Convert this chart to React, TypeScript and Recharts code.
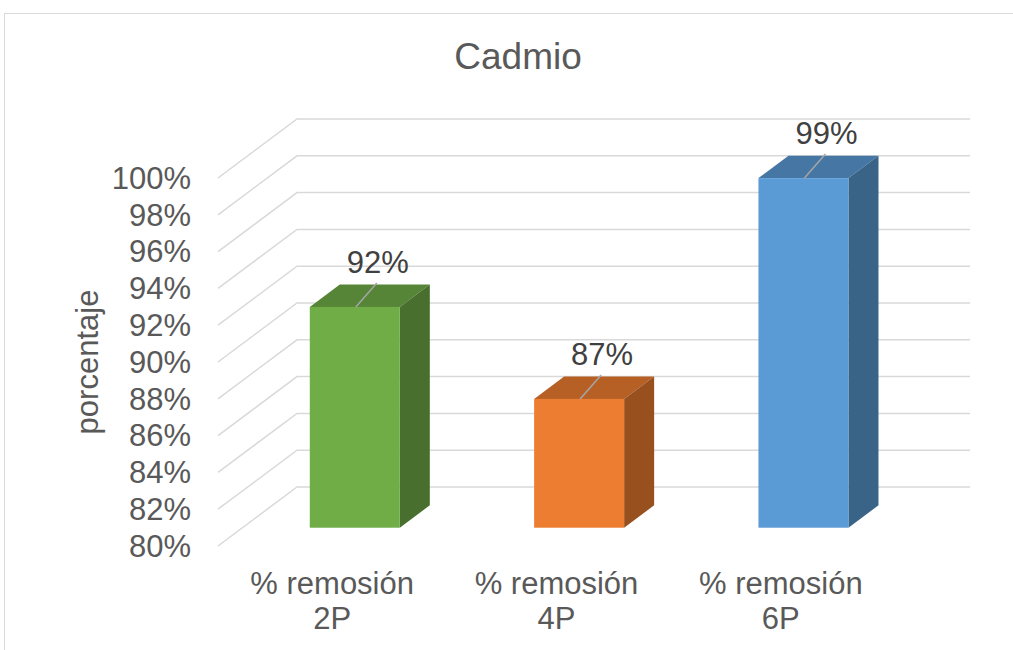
import { BarChart, Bar, XAxis, YAxis, CartesianGrid, LabelList } from "recharts"

const categories = ["% remosión 2P", "% remosión 4P", "% remosión 6P"]
const removal = [92, 87, 99]
const yTicks = [80, 82, 84, 86, 88, 90, 92, 94, 96, 98, 100]
const barColors = ["#70AD47", "#ED7D31", "#5B9BD5"]

const data = categories.map((name, i) => ({ name, value: removal[i] }))

// fake 3d: how far the back wall sits from the front plane
const DEPTH_X = 79
const DEPTH_Y = 59
const BAR_FRONT = 0.31
const BAR_DEPTH = 0.38

const FONT = '"Liberation Sans", Arial, sans-serif'
const GRID = "#d9d9d9"
const TEXT = "#595959"

function shade(hex: string, k: number) {
  const n = parseInt(hex.slice(1), 16)
  const c = [(n >> 16) & 255, (n >> 8) & 255, n & 255].map((v) => Math.round(v * k))
  return `rgb(${c[0]},${c[1]},${c[2]})`
}

function Box3D(props: any) {
  const { x, y, width, height, index } = props
  if (height == null || height <= 0) return null
  const color = barColors[index % barColors.length]
  const x0 = x + BAR_FRONT * DEPTH_X
  const y0 = y - BAR_FRONT * DEPTH_Y
  const dx = BAR_DEPTH * DEPTH_X
  const dy = -BAR_DEPTH * DEPTH_Y
  return (
    <g>
      <polygon
        points={`${x0},${y0} ${x0 + dx},${y0 + dy} ${x0 + width + dx},${y0 + dy} ${x0 + width},${y0}`}
        fill={shade(color, 0.77)}
      />
      <polygon
        points={`${x0 + width},${y0} ${x0 + width + dx},${y0 + dy} ${x0 + width + dx},${y0 + height + dy} ${x0 + width},${y0 + height}`}
        fill={shade(color, 0.64)}
      />
      <rect x={x0} y={y0} width={width} height={height} fill={color} />
    </g>
  )
}

function ValueLabel(props: any) {
  const { x, y, width, value } = props
  const cx = x + BAR_FRONT * DEPTH_X + width / 2
  const top = y - BAR_FRONT * DEPTH_Y
  return (
    <g>
      <line x1={cx + 1} y1={top} x2={cx + 22} y2={top - 24} stroke="#a6a6a6" strokeWidth={1.5} />
      <text x={cx + 23} y={top - 34} textAnchor="middle" fontSize={31} fontFamily={FONT} fill="#404040">
        {`${Math.round(value)}%`}
      </text>
    </g>
  )
}

function CategoryTick(props: any) {
  const { x, y, payload } = props
  const parts = String(payload.value).split(" ")
  const first = parts.slice(0, parts.length - 1).join(" ")
  const last = parts[parts.length - 1]
  return (
    <text textAnchor="middle" fontSize={31} fontFamily={FONT} fill={TEXT}>
      <tspan x={x + 2} y={y + 48}>{first}</tspan>
      <tspan x={x + 2} y={y + 83}>{last}</tspan>
    </text>
  )
}

function PercentTick(props: any) {
  const { x, y, payload } = props
  return (
    <text x={x} y={y} dy="0.35em" textAnchor="end" fontSize={31} fontFamily={FONT} fill={TEXT}>
      {`${payload.value}%`}
    </text>
  )
}

function AxisTitle(props: any) {
  const { viewBox } = props
  const cx = viewBox.x - 31
  const cy = viewBox.y + viewBox.height / 2
  return (
    <text
      x={cx}
      y={cy}
      transform={`rotate(-90 ${cx} ${cy})`}
      textAnchor="middle"
      dominantBaseline="central"
      fontSize={31}
      fontFamily={FONT}
      fill={TEXT}
    >
      porcentaje
    </text>
  )
}

function gridLine(p: any) {
  const d = `M${p.x1},${p.y1} L${p.x1 + DEPTH_X},${p.y1 - DEPTH_Y} L${p.x2 + DEPTH_X},${p.y1 - DEPTH_Y}`
  return <path key={`h-${p.index}-${p.y1}`} d={d} stroke={GRID} strokeWidth={1.5} fill="none" />
}

export default function App() {
  return (
    <div style={{ position: "fixed", left: 0, top: 0, width: 1013, height: 650, overflow: "hidden", background: "#fff" }}>
      <div
        style={{
          position: "absolute",
          left: 4,
          top: 13,
          width: 1100,
          height: 700,
          border: `1.5px solid ${GRID}`,
        }}
      />
      <svg width={1013} height={650} style={{ position: "absolute", left: 0, top: 0 }}>
        <text x={518} y={69} textAnchor="middle" fontSize={37} fontFamily={FONT} fill={TEXT}>
          Cadmio
        </text>
      </svg>
      <div style={{ position: "absolute", left: 0, top: 0 }}>
        <BarChart
          width={1013}
          height={650}
          data={data}
          margin={{ top: 178, right: 122, left: 118, bottom: 4 }}
          barCategoryGap="30%"
        >
          <CartesianGrid vertical={false} horizontal={gridLine} />
          <XAxis
            dataKey="name"
            axisLine={false}
            tickLine={false}
            tickSize={0}
            tickMargin={0}
            height={100}
            interval={0}
            tick={<CategoryTick />}
          />
          <YAxis
            domain={[80, 100]}
            ticks={yTicks}
            axisLine={false}
            tickLine={false}
            tickSize={0}
            tickMargin={27}
            width={100}
            tick={<PercentTick />}
            label={<AxisTitle />}
          />
          <Bar dataKey="value" shape={<Box3D />} isAnimationActive={false}>
            <LabelList dataKey="value" content={<ValueLabel />} />
          </Bar>
        </BarChart>
      </div>
    </div>
  )
}
